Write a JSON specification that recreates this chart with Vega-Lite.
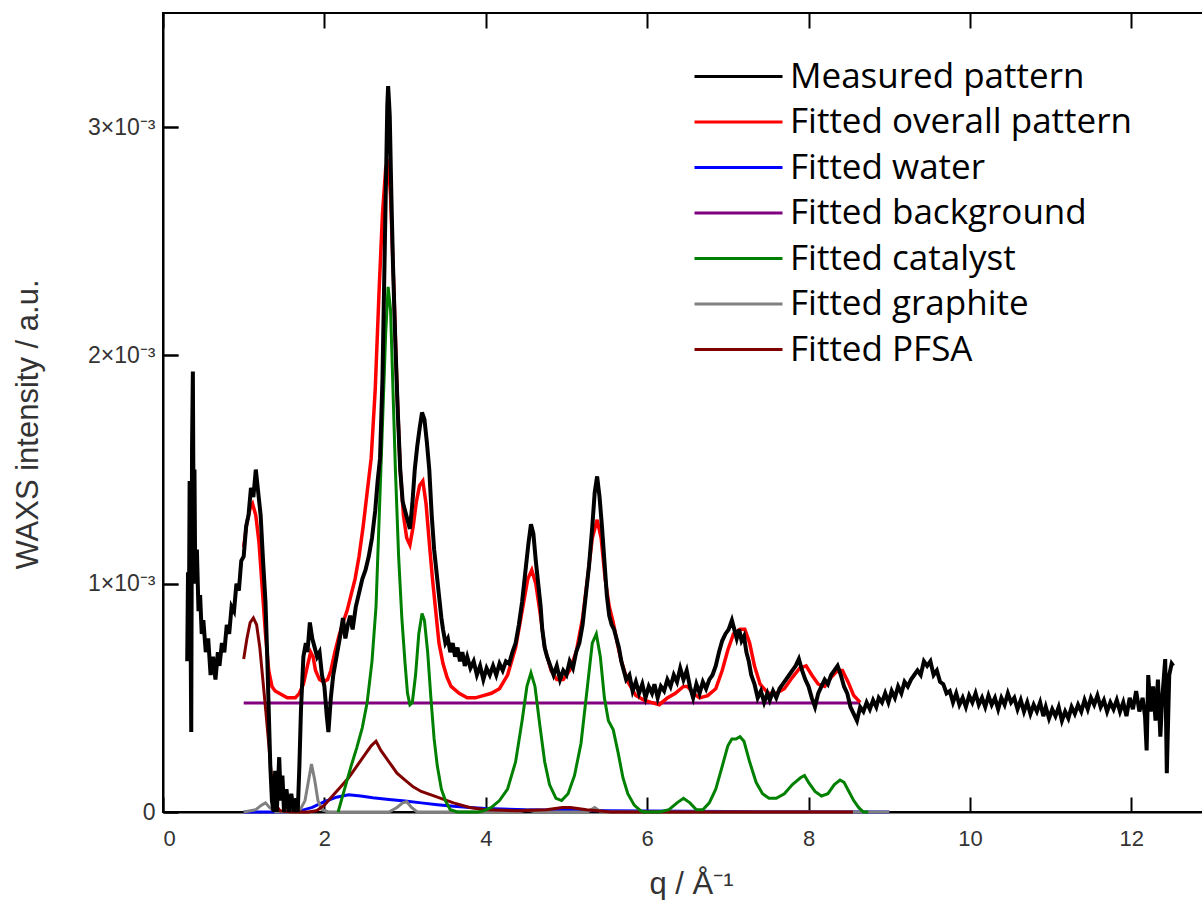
{
"$schema":"https://vega.github.io/schema/vega-lite/v6.json",
"width":1049,"height":799,
"autosize":{"type":"none"},
"padding":{"left":163,"top":13,"right":0,"bottom":88},
"resolve":{"axis":{"x":"independent","y":"independent"}},
"config":{
 "view":{"stroke":"#000","strokeWidth":2},
 "axis":{"domainColor":"#000","domainWidth":2,"tickColor":"#000","tickWidth":2,"gridColor":"#000","gridWidth":2,"gridOpacity":1,"gridDash":[15,3000],"labelFont":"Liberation Sans","labelFontSize":22,"labelColor":"#333","titleFont":"Liberation Sans","titleFontSize":31,"titleColor":"#333","titleFontWeight":"normal"}
},
"layer":[
{
 "data":{"values":[
{"series":"Fitted background","q":1.0,"I":0.477e-3},{"series":"Fitted background","q":8.64,"I":0.477e-3},
{"series":"Fitted water","q":1.0,"I":0},{"series":"Fitted water","q":1.5,"I":0},{"series":"Fitted water","q":1.7,"I":0.005e-3},{"series":"Fitted water","q":1.85,"I":0.02e-3},{"series":"Fitted water","q":2.0,"I":0.045e-3},{"series":"Fitted water","q":2.15,"I":0.065e-3},{"series":"Fitted water","q":2.3,"I":0.075e-3},{"series":"Fitted water","q":2.45,"I":0.07e-3},{"series":"Fitted water","q":2.6,"I":0.062e-3},{"series":"Fitted water","q":2.8,"I":0.055e-3},{"series":"Fitted water","q":3.0,"I":0.048e-3},{"series":"Fitted water","q":3.2,"I":0.04e-3},{"series":"Fitted water","q":3.4,"I":0.032e-3},{"series":"Fitted water","q":3.6,"I":0.025e-3},{"series":"Fitted water","q":3.8,"I":0.02e-3},{"series":"Fitted water","q":4.0,"I":0.015e-3},{"series":"Fitted water","q":4.5,"I":0.01e-3},{"series":"Fitted water","q":5.0,"I":0.008e-3},{"series":"Fitted water","q":5.5,"I":0.006e-3},{"series":"Fitted water","q":6.0,"I":0.004e-3},{"series":"Fitted water","q":7.0,"I":0.002e-3},{"series":"Fitted water","q":8.0,"I":0.001e-3},{"series":"Fitted water","q":9.0,"I":0},
{"series":"Fitted graphite","q":1.0,"I":0},{"series":"Fitted graphite","q":1.15,"I":0.01e-3},{"series":"Fitted graphite","q":1.22,"I":0.03e-3},{"series":"Fitted graphite","q":1.27,"I":0.04e-3},{"series":"Fitted graphite","q":1.32,"I":0.02e-3},{"series":"Fitted graphite","q":1.4,"I":0},{"series":"Fitted graphite","q":1.6,"I":0},{"series":"Fitted graphite","q":1.7,"I":0.01e-3},{"series":"Fitted graphite","q":1.76,"I":0.05e-3},{"series":"Fitted graphite","q":1.8,"I":0.13e-3},{"series":"Fitted graphite","q":1.84,"I":0.21e-3},{"series":"Fitted graphite","q":1.88,"I":0.14e-3},{"series":"Fitted graphite","q":1.92,"I":0.05e-3},{"series":"Fitted graphite","q":1.97,"I":0.01e-3},{"series":"Fitted graphite","q":2.05,"I":0},{"series":"Fitted graphite","q":2.8,"I":0},{"series":"Fitted graphite","q":2.9,"I":0.02e-3},{"series":"Fitted graphite","q":2.97,"I":0.04e-3},{"series":"Fitted graphite","q":3.02,"I":0.045e-3},{"series":"Fitted graphite","q":3.08,"I":0.02e-3},{"series":"Fitted graphite","q":3.15,"I":0},{"series":"Fitted graphite","q":4.4,"I":0},{"series":"Fitted graphite","q":4.52,"I":0.01e-3},{"series":"Fitted graphite","q":4.62,"I":0},{"series":"Fitted graphite","q":5.26,"I":0},{"series":"Fitted graphite","q":5.35,"I":0.02e-3},{"series":"Fitted graphite","q":5.43,"I":0},{"series":"Fitted graphite","q":9.0,"I":0},
{"series":"Fitted PFSA","q":1.0,"I":0.67e-3},{"series":"Fitted PFSA","q":1.04,"I":0.76e-3},{"series":"Fitted PFSA","q":1.08,"I":0.83e-3},{"series":"Fitted PFSA","q":1.12,"I":0.85e-3},{"series":"Fitted PFSA","q":1.16,"I":0.82e-3},{"series":"Fitted PFSA","q":1.2,"I":0.72e-3},{"series":"Fitted PFSA","q":1.24,"I":0.57e-3},{"series":"Fitted PFSA","q":1.28,"I":0.42e-3},{"series":"Fitted PFSA","q":1.31,"I":0.3e-3},{"series":"Fitted PFSA","q":1.34,"I":0.17e-3},{"series":"Fitted PFSA","q":1.37,"I":0.08e-3},{"series":"Fitted PFSA","q":1.4,"I":0.03e-3},{"series":"Fitted PFSA","q":1.45,"I":0.005e-3},{"series":"Fitted PFSA","q":1.6,"I":0},{"series":"Fitted PFSA","q":1.8,"I":0},{"series":"Fitted PFSA","q":1.9,"I":0.005e-3},{"series":"Fitted PFSA","q":2.0,"I":0.03e-3},{"series":"Fitted PFSA","q":2.1,"I":0.07e-3},{"series":"Fitted PFSA","q":2.2,"I":0.11e-3},{"series":"Fitted PFSA","q":2.3,"I":0.15e-3},{"series":"Fitted PFSA","q":2.4,"I":0.2e-3},{"series":"Fitted PFSA","q":2.5,"I":0.25e-3},{"series":"Fitted PFSA","q":2.58,"I":0.29e-3},{"series":"Fitted PFSA","q":2.64,"I":0.31e-3},{"series":"Fitted PFSA","q":2.7,"I":0.27e-3},{"series":"Fitted PFSA","q":2.8,"I":0.22e-3},{"series":"Fitted PFSA","q":2.9,"I":0.17e-3},{"series":"Fitted PFSA","q":3.0,"I":0.14e-3},{"series":"Fitted PFSA","q":3.1,"I":0.11e-3},{"series":"Fitted PFSA","q":3.2,"I":0.09e-3},{"series":"Fitted PFSA","q":3.4,"I":0.065e-3},{"series":"Fitted PFSA","q":3.6,"I":0.04e-3},{"series":"Fitted PFSA","q":3.8,"I":0.02e-3},{"series":"Fitted PFSA","q":4.0,"I":0.01e-3},{"series":"Fitted PFSA","q":4.4,"I":0.005e-3},{"series":"Fitted PFSA","q":4.75,"I":0.01e-3},{"series":"Fitted PFSA","q":4.95,"I":0.02e-3},{"series":"Fitted PFSA","q":5.05,"I":0.02e-3},{"series":"Fitted PFSA","q":5.25,"I":0.01e-3},{"series":"Fitted PFSA","q":5.55,"I":0},{"series":"Fitted PFSA","q":8.55,"I":0},
{"series":"Fitted catalyst","q":2.17,"I":0},{"series":"Fitted catalyst","q":2.25,"I":0.1e-3},{"series":"Fitted catalyst","q":2.33,"I":0.2e-3},{"series":"Fitted catalyst","q":2.4,"I":0.28e-3},{"series":"Fitted catalyst","q":2.47,"I":0.37e-3},{"series":"Fitted catalyst","q":2.53,"I":0.48e-3},{"series":"Fitted catalyst","q":2.59,"I":0.66e-3},{"series":"Fitted catalyst","q":2.64,"I":0.9e-3},{"series":"Fitted catalyst","q":2.68,"I":1.3e-3},{"series":"Fitted catalyst","q":2.72,"I":1.7e-3},{"series":"Fitted catalyst","q":2.76,"I":2.1e-3},{"series":"Fitted catalyst","q":2.79,"I":2.3e-3},{"series":"Fitted catalyst","q":2.82,"I":2.2e-3},{"series":"Fitted catalyst","q":2.85,"I":1.85e-3},{"series":"Fitted catalyst","q":2.88,"I":1.5e-3},{"series":"Fitted catalyst","q":2.92,"I":1.12e-3},{"series":"Fitted catalyst","q":2.96,"I":0.85e-3},{"series":"Fitted catalyst","q":3.0,"I":0.65e-3},{"series":"Fitted catalyst","q":3.03,"I":0.52e-3},{"series":"Fitted catalyst","q":3.06,"I":0.47e-3},{"series":"Fitted catalyst","q":3.09,"I":0.48e-3},{"series":"Fitted catalyst","q":3.13,"I":0.6e-3},{"series":"Fitted catalyst","q":3.17,"I":0.78e-3},{"series":"Fitted catalyst","q":3.21,"I":0.87e-3},{"series":"Fitted catalyst","q":3.24,"I":0.84e-3},{"series":"Fitted catalyst","q":3.28,"I":0.7e-3},{"series":"Fitted catalyst","q":3.32,"I":0.5e-3},{"series":"Fitted catalyst","q":3.36,"I":0.32e-3},{"series":"Fitted catalyst","q":3.4,"I":0.2e-3},{"series":"Fitted catalyst","q":3.45,"I":0.1e-3},{"series":"Fitted catalyst","q":3.5,"I":0.05e-3},{"series":"Fitted catalyst","q":3.56,"I":0.01e-3},{"series":"Fitted catalyst","q":3.65,"I":0},{"series":"Fitted catalyst","q":3.9,"I":0},{"series":"Fitted catalyst","q":3.97,"I":0.005e-3},{"series":"Fitted catalyst","q":4.07,"I":0.02e-3},{"series":"Fitted catalyst","q":4.17,"I":0.05e-3},{"series":"Fitted catalyst","q":4.27,"I":0.1e-3},{"series":"Fitted catalyst","q":4.37,"I":0.22e-3},{"series":"Fitted catalyst","q":4.45,"I":0.4e-3},{"series":"Fitted catalyst","q":4.51,"I":0.55e-3},{"series":"Fitted catalyst","q":4.56,"I":0.61e-3},{"series":"Fitted catalyst","q":4.61,"I":0.55e-3},{"series":"Fitted catalyst","q":4.67,"I":0.38e-3},{"series":"Fitted catalyst","q":4.73,"I":0.22e-3},{"series":"Fitted catalyst","q":4.79,"I":0.12e-3},{"series":"Fitted catalyst","q":4.87,"I":0.06e-3},{"series":"Fitted catalyst","q":4.94,"I":0.05e-3},{"series":"Fitted catalyst","q":5.02,"I":0.08e-3},{"series":"Fitted catalyst","q":5.1,"I":0.16e-3},{"series":"Fitted catalyst","q":5.18,"I":0.3e-3},{"series":"Fitted catalyst","q":5.26,"I":0.55e-3},{"series":"Fitted catalyst","q":5.32,"I":0.74e-3},{"series":"Fitted catalyst","q":5.37,"I":0.78e-3},{"series":"Fitted catalyst","q":5.42,"I":0.68e-3},{"series":"Fitted catalyst","q":5.47,"I":0.5e-3},{"series":"Fitted catalyst","q":5.52,"I":0.4e-3},{"series":"Fitted catalyst","q":5.58,"I":0.36e-3},{"series":"Fitted catalyst","q":5.64,"I":0.26e-3},{"series":"Fitted catalyst","q":5.7,"I":0.15e-3},{"series":"Fitted catalyst","q":5.76,"I":0.08e-3},{"series":"Fitted catalyst","q":5.84,"I":0.03e-3},{"series":"Fitted catalyst","q":5.92,"I":0.005e-3},{"series":"Fitted catalyst","q":5.96,"I":0},{"series":"Fitted catalyst","q":6.15,"I":0},{"series":"Fitted catalyst","q":6.27,"I":0.01e-3},{"series":"Fitted catalyst","q":6.37,"I":0.04e-3},{"series":"Fitted catalyst","q":6.45,"I":0.06e-3},{"series":"Fitted catalyst","q":6.53,"I":0.04e-3},{"series":"Fitted catalyst","q":6.61,"I":0.01e-3},{"series":"Fitted catalyst","q":6.69,"I":0.01e-3},{"series":"Fitted catalyst","q":6.77,"I":0.04e-3},{"series":"Fitted catalyst","q":6.85,"I":0.1e-3},{"series":"Fitted catalyst","q":6.93,"I":0.2e-3},{"series":"Fitted catalyst","q":7.0,"I":0.29e-3},{"series":"Fitted catalyst","q":7.05,"I":0.32e-3},{"series":"Fitted catalyst","q":7.1,"I":0.32e-3},{"series":"Fitted catalyst","q":7.15,"I":0.33e-3},{"series":"Fitted catalyst","q":7.2,"I":0.31e-3},{"series":"Fitted catalyst","q":7.27,"I":0.22e-3},{"series":"Fitted catalyst","q":7.35,"I":0.13e-3},{"series":"Fitted catalyst","q":7.43,"I":0.08e-3},{"series":"Fitted catalyst","q":7.51,"I":0.06e-3},{"series":"Fitted catalyst","q":7.6,"I":0.06e-3},{"series":"Fitted catalyst","q":7.7,"I":0.08e-3},{"series":"Fitted catalyst","q":7.8,"I":0.12e-3},{"series":"Fitted catalyst","q":7.9,"I":0.15e-3},{"series":"Fitted catalyst","q":7.95,"I":0.16e-3},{"series":"Fitted catalyst","q":8.0,"I":0.13e-3},{"series":"Fitted catalyst","q":8.08,"I":0.09e-3},{"series":"Fitted catalyst","q":8.16,"I":0.07e-3},{"series":"Fitted catalyst","q":8.24,"I":0.08e-3},{"series":"Fitted catalyst","q":8.32,"I":0.12e-3},{"series":"Fitted catalyst","q":8.39,"I":0.14e-3},{"series":"Fitted catalyst","q":8.44,"I":0.13e-3},{"series":"Fitted catalyst","q":8.5,"I":0.09e-3},{"series":"Fitted catalyst","q":8.56,"I":0.05e-3},{"series":"Fitted catalyst","q":8.62,"I":0.02e-3},{"series":"Fitted catalyst","q":8.68,"I":0},{"series":"Fitted catalyst","q":8.74,"I":0}
 ]},
 "mark":{"type":"line","strokeWidth":3},
 "encoding":{
  "x":{"field":"q","type":"quantitative","scale":{"domain":[0,13],"nice":false,"zero":false},"axis":{"orient":"bottom","values":[0,2,4,6,8,10,12],"format":"d","ticks":true,"tickSize":-15,"grid":true,"title":"q / Å⁻¹","labelPadding":31,"titleX":528,"titleY":81,"titleBaseline":"alphabetic"}},
  "y":{"field":"I","type":"quantitative","scale":{"domain":[0,0.0035],"nice":false},"axis":{"orient":"left","values":[0,0.001,0.002,0.003],"ticks":true,"tickSize":-15,"grid":true,"labelExpr":"datum.value == 0 ? '0' : round(datum.value*1000) + '×10⁻³'","title":"WAXS intensity / a.u.","labelPadding":23,"labelFontSize":23,"titleX":-135,"titleY":411,"titleBaseline":"middle"}},
  "color":{"field":"series","type":"nominal","scale":{"domain":["Measured pattern","Fitted overall pattern","Fitted water","Fitted background","Fitted catalyst","Fitted graphite","Fitted PFSA"],"range":["#000000","#ff0000","#0000ff","#800080","#008000","#808080","#800000"]},
   "legend":{"orient":"none","legendX":525,"legendY":46,"title":null,"labelFont":"Open Sans","labelFontSize":35,"labelColor":"#000","labelLimit":0,"symbolType":"M-1,0H7","symbolSize":484,"symbolStrokeWidth":3,"labelOffset":67,"rowPadding":9.5}}
 }
},
{
 "data":{"values":[
{"series":"Fitted overall pattern","q":1.0,"I":1.16e-3},{"series":"Fitted overall pattern","q":1.04,"I":1.27e-3},{"series":"Fitted overall pattern","q":1.08,"I":1.33e-3},{"series":"Fitted overall pattern","q":1.11,"I":1.35e-3},{"series":"Fitted overall pattern","q":1.15,"I":1.3e-3},{"series":"Fitted overall pattern","q":1.19,"I":1.18e-3},{"series":"Fitted overall pattern","q":1.23,"I":0.98e-3},{"series":"Fitted overall pattern","q":1.27,"I":0.78e-3},{"series":"Fitted overall pattern","q":1.31,"I":0.62e-3},{"series":"Fitted overall pattern","q":1.35,"I":0.55e-3},{"series":"Fitted overall pattern","q":1.39,"I":0.53e-3},{"series":"Fitted overall pattern","q":1.44,"I":0.52e-3},{"series":"Fitted overall pattern","q":1.49,"I":0.51e-3},{"series":"Fitted overall pattern","q":1.54,"I":0.5e-3},{"series":"Fitted overall pattern","q":1.59,"I":0.5e-3},{"series":"Fitted overall pattern","q":1.64,"I":0.5e-3},{"series":"Fitted overall pattern","q":1.69,"I":0.52e-3},{"series":"Fitted overall pattern","q":1.74,"I":0.56e-3},{"series":"Fitted overall pattern","q":1.79,"I":0.64e-3},{"series":"Fitted overall pattern","q":1.83,"I":0.7e-3},{"series":"Fitted overall pattern","q":1.86,"I":0.68e-3},{"series":"Fitted overall pattern","q":1.89,"I":0.62e-3},{"series":"Fitted overall pattern","q":1.94,"I":0.58e-3},{"series":"Fitted overall pattern","q":1.99,"I":0.57e-3},{"series":"Fitted overall pattern","q":2.04,"I":0.58e-3},{"series":"Fitted overall pattern","q":2.08,"I":0.62e-3},{"series":"Fitted overall pattern","q":2.13,"I":0.7e-3},{"series":"Fitted overall pattern","q":2.18,"I":0.77e-3},{"series":"Fitted overall pattern","q":2.23,"I":0.83e-3},{"series":"Fitted overall pattern","q":2.28,"I":0.88e-3},{"series":"Fitted overall pattern","q":2.33,"I":0.95e-3},{"series":"Fitted overall pattern","q":2.38,"I":1.02e-3},{"series":"Fitted overall pattern","q":2.43,"I":1.12e-3},{"series":"Fitted overall pattern","q":2.48,"I":1.25e-3},{"series":"Fitted overall pattern","q":2.53,"I":1.4e-3},{"series":"Fitted overall pattern","q":2.58,"I":1.55e-3},{"series":"Fitted overall pattern","q":2.63,"I":1.85e-3},{"series":"Fitted overall pattern","q":2.68,"I":2.3e-3},{"series":"Fitted overall pattern","q":2.72,"I":2.62e-3},{"series":"Fitted overall pattern","q":2.76,"I":2.82e-3},{"series":"Fitted overall pattern","q":2.79,"I":2.86e-3},{"series":"Fitted overall pattern","q":2.82,"I":2.7e-3},{"series":"Fitted overall pattern","q":2.86,"I":2.3e-3},{"series":"Fitted overall pattern","q":2.9,"I":1.85e-3},{"series":"Fitted overall pattern","q":2.94,"I":1.5e-3},{"series":"Fitted overall pattern","q":2.98,"I":1.3e-3},{"series":"Fitted overall pattern","q":3.02,"I":1.2e-3},{"series":"Fitted overall pattern","q":3.06,"I":1.17e-3},{"series":"Fitted overall pattern","q":3.1,"I":1.25e-3},{"series":"Fitted overall pattern","q":3.14,"I":1.36e-3},{"series":"Fitted overall pattern","q":3.18,"I":1.43e-3},{"series":"Fitted overall pattern","q":3.22,"I":1.45e-3},{"series":"Fitted overall pattern","q":3.26,"I":1.35e-3},{"series":"Fitted overall pattern","q":3.3,"I":1.18e-3},{"series":"Fitted overall pattern","q":3.34,"I":1.02e-3},{"series":"Fitted overall pattern","q":3.38,"I":0.88e-3},{"series":"Fitted overall pattern","q":3.42,"I":0.74e-3},{"series":"Fitted overall pattern","q":3.47,"I":0.65e-3},{"series":"Fitted overall pattern","q":3.52,"I":0.59e-3},{"series":"Fitted overall pattern","q":3.57,"I":0.55e-3},{"series":"Fitted overall pattern","q":3.67,"I":0.52e-3},{"series":"Fitted overall pattern","q":3.77,"I":0.5e-3},{"series":"Fitted overall pattern","q":3.87,"I":0.5e-3},{"series":"Fitted overall pattern","q":3.97,"I":0.51e-3},{"series":"Fitted overall pattern","q":4.07,"I":0.52e-3},{"series":"Fitted overall pattern","q":4.17,"I":0.54e-3},{"series":"Fitted overall pattern","q":4.27,"I":0.6e-3},{"series":"Fitted overall pattern","q":4.37,"I":0.72e-3},{"series":"Fitted overall pattern","q":4.45,"I":0.88e-3},{"series":"Fitted overall pattern","q":4.52,"I":1.02e-3},{"series":"Fitted overall pattern","q":4.57,"I":1.06e-3},{"series":"Fitted overall pattern","q":4.62,"I":1.0e-3},{"series":"Fitted overall pattern","q":4.67,"I":0.88e-3},{"series":"Fitted overall pattern","q":4.73,"I":0.72e-3},{"series":"Fitted overall pattern","q":4.81,"I":0.62e-3},{"series":"Fitted overall pattern","q":4.88,"I":0.58e-3},{"series":"Fitted overall pattern","q":4.96,"I":0.58e-3},{"series":"Fitted overall pattern","q":5.04,"I":0.62e-3},{"series":"Fitted overall pattern","q":5.12,"I":0.7e-3},{"series":"Fitted overall pattern","q":5.2,"I":0.85e-3},{"series":"Fitted overall pattern","q":5.26,"I":1.02e-3},{"series":"Fitted overall pattern","q":5.32,"I":1.2e-3},{"series":"Fitted overall pattern","q":5.38,"I":1.28e-3},{"series":"Fitted overall pattern","q":5.43,"I":1.2e-3},{"series":"Fitted overall pattern","q":5.48,"I":1.02e-3},{"series":"Fitted overall pattern","q":5.53,"I":0.9e-3},{"series":"Fitted overall pattern","q":5.58,"I":0.83e-3},{"series":"Fitted overall pattern","q":5.63,"I":0.74e-3},{"series":"Fitted overall pattern","q":5.68,"I":0.66e-3},{"series":"Fitted overall pattern","q":5.76,"I":0.57e-3},{"series":"Fitted overall pattern","q":5.86,"I":0.51e-3},{"series":"Fitted overall pattern","q":5.96,"I":0.49e-3},{"series":"Fitted overall pattern","q":6.05,"I":0.48e-3},{"series":"Fitted overall pattern","q":6.15,"I":0.47e-3},{"series":"Fitted overall pattern","q":6.25,"I":0.5e-3},{"series":"Fitted overall pattern","q":6.35,"I":0.52e-3},{"series":"Fitted overall pattern","q":6.45,"I":0.55e-3},{"series":"Fitted overall pattern","q":6.5,"I":0.55e-3},{"series":"Fitted overall pattern","q":6.57,"I":0.52e-3},{"series":"Fitted overall pattern","q":6.65,"I":0.5e-3},{"series":"Fitted overall pattern","q":6.75,"I":0.51e-3},{"series":"Fitted overall pattern","q":6.85,"I":0.54e-3},{"series":"Fitted overall pattern","q":6.93,"I":0.62e-3},{"series":"Fitted overall pattern","q":7.0,"I":0.71e-3},{"series":"Fitted overall pattern","q":7.07,"I":0.78e-3},{"series":"Fitted overall pattern","q":7.15,"I":0.8e-3},{"series":"Fitted overall pattern","q":7.21,"I":0.8e-3},{"series":"Fitted overall pattern","q":7.27,"I":0.74e-3},{"series":"Fitted overall pattern","q":7.33,"I":0.64e-3},{"series":"Fitted overall pattern","q":7.4,"I":0.56e-3},{"series":"Fitted overall pattern","q":7.5,"I":0.52e-3},{"series":"Fitted overall pattern","q":7.6,"I":0.52e-3},{"series":"Fitted overall pattern","q":7.7,"I":0.54e-3},{"series":"Fitted overall pattern","q":7.8,"I":0.59e-3},{"series":"Fitted overall pattern","q":7.89,"I":0.63e-3},{"series":"Fitted overall pattern","q":7.97,"I":0.64e-3},{"series":"Fitted overall pattern","q":8.04,"I":0.6e-3},{"series":"Fitted overall pattern","q":8.12,"I":0.56e-3},{"series":"Fitted overall pattern","q":8.2,"I":0.55e-3},{"series":"Fitted overall pattern","q":8.28,"I":0.59e-3},{"series":"Fitted overall pattern","q":8.36,"I":0.62e-3},{"series":"Fitted overall pattern","q":8.42,"I":0.62e-3},{"series":"Fitted overall pattern","q":8.49,"I":0.57e-3},{"series":"Fitted overall pattern","q":8.56,"I":0.51e-3},{"series":"Fitted overall pattern","q":8.64,"I":0.48e-3}
 ]},
 "mark":{"type":"line","strokeWidth":3.5},
 "encoding":{
  "x":{"field":"q","type":"quantitative","axis":null},
  "y":{"field":"I","type":"quantitative","axis":null},
  "color":{"field":"series","type":"nominal"}
 }
},
{
 "data":{"values":[
{"series":"Measured pattern","q":0.3,"I":0.66e-3},{"series":"Measured pattern","q":0.31,"I":1.05e-3},{"series":"Measured pattern","q":0.32,"I":0.75e-3},{"series":"Measured pattern","q":0.33,"I":1.45e-3},{"series":"Measured pattern","q":0.34,"I":0.9e-3},{"series":"Measured pattern","q":0.35,"I":0.35e-3},{"series":"Measured pattern","q":0.36,"I":1.6e-3},{"series":"Measured pattern","q":0.37,"I":1.93e-3},{"series":"Measured pattern","q":0.38,"I":1.2e-3},{"series":"Measured pattern","q":0.39,"I":1.5e-3},{"series":"Measured pattern","q":0.4,"I":1.0e-3},{"series":"Measured pattern","q":0.42,"I":1.15e-3},{"series":"Measured pattern","q":0.44,"I":0.88e-3},{"series":"Measured pattern","q":0.46,"I":0.95e-3},{"series":"Measured pattern","q":0.48,"I":0.78e-3},{"series":"Measured pattern","q":0.5,"I":0.84e-3},{"series":"Measured pattern","q":0.53,"I":0.7e-3},{"series":"Measured pattern","q":0.56,"I":0.76e-3},{"series":"Measured pattern","q":0.59,"I":0.6e-3},{"series":"Measured pattern","q":0.62,"I":0.68e-3},{"series":"Measured pattern","q":0.65,"I":0.58e-3},{"series":"Measured pattern","q":0.68,"I":0.7e-3},{"series":"Measured pattern","q":0.7,"I":0.64e-3},{"series":"Measured pattern","q":0.73,"I":0.74e-3},{"series":"Measured pattern","q":0.76,"I":0.7e-3},{"series":"Measured pattern","q":0.79,"I":0.82e-3},{"series":"Measured pattern","q":0.82,"I":0.78e-3},{"series":"Measured pattern","q":0.85,"I":0.9e-3},{"series":"Measured pattern","q":0.88,"I":0.88e-3},{"series":"Measured pattern","q":0.91,"I":1.0e-3},{"series":"Measured pattern","q":0.94,"I":0.97e-3},{"series":"Measured pattern","q":0.97,"I":1.1e-3},{"series":"Measured pattern","q":1.0,"I":1.12e-3},{"series":"Measured pattern","q":1.03,"I":1.25e-3},{"series":"Measured pattern","q":1.06,"I":1.3e-3},{"series":"Measured pattern","q":1.09,"I":1.42e-3},{"series":"Measured pattern","q":1.12,"I":1.38e-3},{"series":"Measured pattern","q":1.15,"I":1.5e-3},{"series":"Measured pattern","q":1.18,"I":1.4e-3},{"series":"Measured pattern","q":1.21,"I":1.3e-3},{"series":"Measured pattern","q":1.24,"I":1.1e-3},{"series":"Measured pattern","q":1.27,"I":0.92e-3},{"series":"Measured pattern","q":1.29,"I":0.7e-3},{"series":"Measured pattern","q":1.31,"I":0.45e-3},{"series":"Measured pattern","q":1.33,"I":0.2e-3},{"series":"Measured pattern","q":1.35,"I":0.05e-3},{"series":"Measured pattern","q":1.37,"I":0},{"series":"Measured pattern","q":1.39,"I":0.18e-3},{"series":"Measured pattern","q":1.41,"I":0},{"series":"Measured pattern","q":1.44,"I":0.24e-3},{"series":"Measured pattern","q":1.46,"I":0.05e-3},{"series":"Measured pattern","q":1.48,"I":0.16e-3},{"series":"Measured pattern","q":1.5,"I":0},{"series":"Measured pattern","q":1.53,"I":0.1e-3},{"series":"Measured pattern","q":1.56,"I":0},{"series":"Measured pattern","q":1.59,"I":0.08e-3},{"series":"Measured pattern","q":1.62,"I":0},{"series":"Measured pattern","q":1.65,"I":0.06e-3},{"series":"Measured pattern","q":1.67,"I":0},{"series":"Measured pattern","q":1.69,"I":0.2e-3},{"series":"Measured pattern","q":1.71,"I":0.45e-3},{"series":"Measured pattern","q":1.74,"I":0.68e-3},{"series":"Measured pattern","q":1.77,"I":0.74e-3},{"series":"Measured pattern","q":1.79,"I":0.7e-3},{"series":"Measured pattern","q":1.82,"I":0.83e-3},{"series":"Measured pattern","q":1.85,"I":0.76e-3},{"series":"Measured pattern","q":1.88,"I":0.72e-3},{"series":"Measured pattern","q":1.91,"I":0.68e-3},{"series":"Measured pattern","q":1.94,"I":0.7e-3},{"series":"Measured pattern","q":1.97,"I":0.6e-3},{"series":"Measured pattern","q":2.0,"I":0.55e-3},{"series":"Measured pattern","q":2.03,"I":0.42e-3},{"series":"Measured pattern","q":2.05,"I":0.35e-3},{"series":"Measured pattern","q":2.08,"I":0.5e-3},{"series":"Measured pattern","q":2.11,"I":0.6e-3},{"series":"Measured pattern","q":2.14,"I":0.66e-3},{"series":"Measured pattern","q":2.17,"I":0.72e-3},{"series":"Measured pattern","q":2.2,"I":0.78e-3},{"series":"Measured pattern","q":2.23,"I":0.85e-3},{"series":"Measured pattern","q":2.26,"I":0.76e-3},{"series":"Measured pattern","q":2.29,"I":0.82e-3},{"series":"Measured pattern","q":2.32,"I":0.86e-3},{"series":"Measured pattern","q":2.35,"I":0.8e-3},{"series":"Measured pattern","q":2.39,"I":0.9e-3},{"series":"Measured pattern","q":2.43,"I":0.96e-3},{"series":"Measured pattern","q":2.47,"I":1.02e-3},{"series":"Measured pattern","q":2.51,"I":1.06e-3},{"series":"Measured pattern","q":2.55,"I":1.12e-3},{"series":"Measured pattern","q":2.59,"I":1.2e-3},{"series":"Measured pattern","q":2.63,"I":1.32e-3},{"series":"Measured pattern","q":2.66,"I":1.45e-3},{"series":"Measured pattern","q":2.69,"I":1.55e-3},{"series":"Measured pattern","q":2.72,"I":1.9e-3},{"series":"Measured pattern","q":2.75,"I":2.5e-3},{"series":"Measured pattern","q":2.77,"I":2.9e-3},{"series":"Measured pattern","q":2.78,"I":3.1e-3},{"series":"Measured pattern","q":2.79,"I":3.18e-3},{"series":"Measured pattern","q":2.8,"I":3.12e-3},{"series":"Measured pattern","q":2.81,"I":3.05e-3},{"series":"Measured pattern","q":2.83,"I":2.7e-3},{"series":"Measured pattern","q":2.85,"I":2.4e-3},{"series":"Measured pattern","q":2.88,"I":2.05e-3},{"series":"Measured pattern","q":2.91,"I":1.75e-3},{"series":"Measured pattern","q":2.94,"I":1.5e-3},{"series":"Measured pattern","q":2.97,"I":1.36e-3},{"series":"Measured pattern","q":3.0,"I":1.32e-3},{"series":"Measured pattern","q":3.03,"I":1.28e-3},{"series":"Measured pattern","q":3.06,"I":1.24e-3},{"series":"Measured pattern","q":3.09,"I":1.35e-3},{"series":"Measured pattern","q":3.12,"I":1.5e-3},{"series":"Measured pattern","q":3.15,"I":1.6e-3},{"series":"Measured pattern","q":3.18,"I":1.68e-3},{"series":"Measured pattern","q":3.21,"I":1.75e-3},{"series":"Measured pattern","q":3.24,"I":1.72e-3},{"series":"Measured pattern","q":3.27,"I":1.62e-3},{"series":"Measured pattern","q":3.3,"I":1.5e-3},{"series":"Measured pattern","q":3.33,"I":1.3e-3},{"series":"Measured pattern","q":3.36,"I":1.15e-3},{"series":"Measured pattern","q":3.39,"I":1.05e-3},{"series":"Measured pattern","q":3.42,"I":0.95e-3},{"series":"Measured pattern","q":3.45,"I":0.85e-3},{"series":"Measured pattern","q":3.47,"I":0.8e-3},{"series":"Measured pattern","q":3.5,"I":0.74e-3},{"series":"Measured pattern","q":3.53,"I":0.76e-3},{"series":"Measured pattern","q":3.56,"I":0.7e-3},{"series":"Measured pattern","q":3.59,"I":0.74e-3},{"series":"Measured pattern","q":3.62,"I":0.68e-3},{"series":"Measured pattern","q":3.65,"I":0.72e-3},{"series":"Measured pattern","q":3.68,"I":0.66e-3},{"series":"Measured pattern","q":3.71,"I":0.7e-3},{"series":"Measured pattern","q":3.74,"I":0.64e-3},{"series":"Measured pattern","q":3.77,"I":0.68e-3},{"series":"Measured pattern","q":3.81,"I":0.63e-3},{"series":"Measured pattern","q":3.85,"I":0.66e-3},{"series":"Measured pattern","q":3.89,"I":0.6e-3},{"series":"Measured pattern","q":3.93,"I":0.64e-3},{"series":"Measured pattern","q":3.97,"I":0.58e-3},{"series":"Measured pattern","q":4.01,"I":0.63e-3},{"series":"Measured pattern","q":4.05,"I":0.6e-3},{"series":"Measured pattern","q":4.09,"I":0.64e-3},{"series":"Measured pattern","q":4.13,"I":0.6e-3},{"series":"Measured pattern","q":4.17,"I":0.65e-3},{"series":"Measured pattern","q":4.21,"I":0.62e-3},{"series":"Measured pattern","q":4.25,"I":0.66e-3},{"series":"Measured pattern","q":4.29,"I":0.65e-3},{"series":"Measured pattern","q":4.33,"I":0.7e-3},{"series":"Measured pattern","q":4.37,"I":0.74e-3},{"series":"Measured pattern","q":4.41,"I":0.82e-3},{"series":"Measured pattern","q":4.45,"I":0.92e-3},{"series":"Measured pattern","q":4.49,"I":1.05e-3},{"series":"Measured pattern","q":4.53,"I":1.18e-3},{"series":"Measured pattern","q":4.56,"I":1.26e-3},{"series":"Measured pattern","q":4.59,"I":1.22e-3},{"series":"Measured pattern","q":4.62,"I":1.1e-3},{"series":"Measured pattern","q":4.65,"I":1.0e-3},{"series":"Measured pattern","q":4.68,"I":0.9e-3},{"series":"Measured pattern","q":4.7,"I":0.8e-3},{"series":"Measured pattern","q":4.73,"I":0.72e-3},{"series":"Measured pattern","q":4.76,"I":0.68e-3},{"series":"Measured pattern","q":4.8,"I":0.64e-3},{"series":"Measured pattern","q":4.84,"I":0.6e-3},{"series":"Measured pattern","q":4.88,"I":0.64e-3},{"series":"Measured pattern","q":4.92,"I":0.58e-3},{"series":"Measured pattern","q":4.96,"I":0.62e-3},{"series":"Measured pattern","q":5.0,"I":0.6e-3},{"series":"Measured pattern","q":5.04,"I":0.66e-3},{"series":"Measured pattern","q":5.08,"I":0.63e-3},{"series":"Measured pattern","q":5.12,"I":0.7e-3},{"series":"Measured pattern","q":5.16,"I":0.74e-3},{"series":"Measured pattern","q":5.2,"I":0.82e-3},{"series":"Measured pattern","q":5.24,"I":0.95e-3},{"series":"Measured pattern","q":5.28,"I":1.08e-3},{"series":"Measured pattern","q":5.32,"I":1.25e-3},{"series":"Measured pattern","q":5.35,"I":1.4e-3},{"series":"Measured pattern","q":5.38,"I":1.47e-3},{"series":"Measured pattern","q":5.41,"I":1.38e-3},{"series":"Measured pattern","q":5.44,"I":1.25e-3},{"series":"Measured pattern","q":5.47,"I":1.1e-3},{"series":"Measured pattern","q":5.5,"I":0.95e-3},{"series":"Measured pattern","q":5.53,"I":0.86e-3},{"series":"Measured pattern","q":5.56,"I":0.82e-3},{"series":"Measured pattern","q":5.59,"I":0.8e-3},{"series":"Measured pattern","q":5.62,"I":0.76e-3},{"series":"Measured pattern","q":5.65,"I":0.72e-3},{"series":"Measured pattern","q":5.68,"I":0.66e-3},{"series":"Measured pattern","q":5.71,"I":0.62e-3},{"series":"Measured pattern","q":5.74,"I":0.58e-3},{"series":"Measured pattern","q":5.78,"I":0.6e-3},{"series":"Measured pattern","q":5.82,"I":0.53e-3},{"series":"Measured pattern","q":5.86,"I":0.57e-3},{"series":"Measured pattern","q":5.9,"I":0.52e-3},{"series":"Measured pattern","q":5.94,"I":0.56e-3},{"series":"Measured pattern","q":5.98,"I":0.5e-3},{"series":"Measured pattern","q":6.02,"I":0.55e-3},{"series":"Measured pattern","q":6.06,"I":0.52e-3},{"series":"Measured pattern","q":6.09,"I":0.56e-3},{"series":"Measured pattern","q":6.13,"I":0.5e-3},{"series":"Measured pattern","q":6.17,"I":0.55e-3},{"series":"Measured pattern","q":6.21,"I":0.53e-3},{"series":"Measured pattern","q":6.25,"I":0.58e-3},{"series":"Measured pattern","q":6.29,"I":0.55e-3},{"series":"Measured pattern","q":6.33,"I":0.6e-3},{"series":"Measured pattern","q":6.37,"I":0.57e-3},{"series":"Measured pattern","q":6.41,"I":0.63e-3},{"series":"Measured pattern","q":6.45,"I":0.58e-3},{"series":"Measured pattern","q":6.49,"I":0.62e-3},{"series":"Measured pattern","q":6.53,"I":0.55e-3},{"series":"Measured pattern","q":6.57,"I":0.5e-3},{"series":"Measured pattern","q":6.61,"I":0.56e-3},{"series":"Measured pattern","q":6.65,"I":0.52e-3},{"series":"Measured pattern","q":6.69,"I":0.57e-3},{"series":"Measured pattern","q":6.73,"I":0.54e-3},{"series":"Measured pattern","q":6.77,"I":0.58e-3},{"series":"Measured pattern","q":6.81,"I":0.6e-3},{"series":"Measured pattern","q":6.85,"I":0.64e-3},{"series":"Measured pattern","q":6.89,"I":0.7e-3},{"series":"Measured pattern","q":6.93,"I":0.75e-3},{"series":"Measured pattern","q":6.97,"I":0.78e-3},{"series":"Measured pattern","q":7.01,"I":0.8e-3},{"series":"Measured pattern","q":7.05,"I":0.84e-3},{"series":"Measured pattern","q":7.08,"I":0.8e-3},{"series":"Measured pattern","q":7.11,"I":0.76e-3},{"series":"Measured pattern","q":7.14,"I":0.8e-3},{"series":"Measured pattern","q":7.17,"I":0.75e-3},{"series":"Measured pattern","q":7.2,"I":0.77e-3},{"series":"Measured pattern","q":7.23,"I":0.7e-3},{"series":"Measured pattern","q":7.26,"I":0.66e-3},{"series":"Measured pattern","q":7.29,"I":0.6e-3},{"series":"Measured pattern","q":7.33,"I":0.56e-3},{"series":"Measured pattern","q":7.37,"I":0.5e-3},{"series":"Measured pattern","q":7.41,"I":0.53e-3},{"series":"Measured pattern","q":7.45,"I":0.48e-3},{"series":"Measured pattern","q":7.49,"I":0.52e-3},{"series":"Measured pattern","q":7.52,"I":0.49e-3},{"series":"Measured pattern","q":7.56,"I":0.53e-3},{"series":"Measured pattern","q":7.6,"I":0.5e-3},{"series":"Measured pattern","q":7.64,"I":0.54e-3},{"series":"Measured pattern","q":7.68,"I":0.56e-3},{"series":"Measured pattern","q":7.72,"I":0.58e-3},{"series":"Measured pattern","q":7.76,"I":0.6e-3},{"series":"Measured pattern","q":7.8,"I":0.62e-3},{"series":"Measured pattern","q":7.84,"I":0.64e-3},{"series":"Measured pattern","q":7.88,"I":0.67e-3},{"series":"Measured pattern","q":7.92,"I":0.62e-3},{"series":"Measured pattern","q":7.96,"I":0.58e-3},{"series":"Measured pattern","q":8.0,"I":0.55e-3},{"series":"Measured pattern","q":8.04,"I":0.5e-3},{"series":"Measured pattern","q":8.08,"I":0.46e-3},{"series":"Measured pattern","q":8.12,"I":0.52e-3},{"series":"Measured pattern","q":8.16,"I":0.55e-3},{"series":"Measured pattern","q":8.2,"I":0.58e-3},{"series":"Measured pattern","q":8.24,"I":0.56e-3},{"series":"Measured pattern","q":8.28,"I":0.6e-3},{"series":"Measured pattern","q":8.32,"I":0.62e-3},{"series":"Measured pattern","q":8.36,"I":0.64e-3},{"series":"Measured pattern","q":8.4,"I":0.6e-3},{"series":"Measured pattern","q":8.44,"I":0.55e-3},{"series":"Measured pattern","q":8.48,"I":0.52e-3},{"series":"Measured pattern","q":8.52,"I":0.46e-3},{"series":"Measured pattern","q":8.56,"I":0.43e-3},{"series":"Measured pattern","q":8.6,"I":0.4e-3},{"series":"Measured pattern","q":8.64,"I":0.46e-3},{"series":"Measured pattern","q":8.68,"I":0.44e-3},{"series":"Measured pattern","q":8.72,"I":0.48e-3},{"series":"Measured pattern","q":8.76,"I":0.45e-3},{"series":"Measured pattern","q":8.8,"I":0.49e-3},{"series":"Measured pattern","q":8.84,"I":0.46e-3},{"series":"Measured pattern","q":8.87,"I":0.5e-3},{"series":"Measured pattern","q":8.91,"I":0.48e-3},{"series":"Measured pattern","q":8.95,"I":0.52e-3},{"series":"Measured pattern","q":8.99,"I":0.48e-3},{"series":"Measured pattern","q":9.03,"I":0.53e-3},{"series":"Measured pattern","q":9.07,"I":0.5e-3},{"series":"Measured pattern","q":9.11,"I":0.55e-3},{"series":"Measured pattern","q":9.15,"I":0.52e-3},{"series":"Measured pattern","q":9.19,"I":0.57e-3},{"series":"Measured pattern","q":9.23,"I":0.55e-3},{"series":"Measured pattern","q":9.27,"I":0.58e-3},{"series":"Measured pattern","q":9.31,"I":0.6e-3},{"series":"Measured pattern","q":9.35,"I":0.62e-3},{"series":"Measured pattern","q":9.39,"I":0.6e-3},{"series":"Measured pattern","q":9.43,"I":0.66e-3},{"series":"Measured pattern","q":9.47,"I":0.64e-3},{"series":"Measured pattern","q":9.51,"I":0.66e-3},{"series":"Measured pattern","q":9.55,"I":0.6e-3},{"series":"Measured pattern","q":9.59,"I":0.62e-3},{"series":"Measured pattern","q":9.63,"I":0.57e-3},{"series":"Measured pattern","q":9.67,"I":0.56e-3},{"series":"Measured pattern","q":9.71,"I":0.52e-3},{"series":"Measured pattern","q":9.75,"I":0.53e-3},{"series":"Measured pattern","q":9.79,"I":0.48e-3},{"series":"Measured pattern","q":9.83,"I":0.52e-3},{"series":"Measured pattern","q":9.87,"I":0.47e-3},{"series":"Measured pattern","q":9.91,"I":0.5e-3},{"series":"Measured pattern","q":9.95,"I":0.46e-3},{"series":"Measured pattern","q":9.99,"I":0.51e-3},{"series":"Measured pattern","q":10.03,"I":0.48e-3},{"series":"Measured pattern","q":10.07,"I":0.52e-3},{"series":"Measured pattern","q":10.11,"I":0.47e-3},{"series":"Measured pattern","q":10.15,"I":0.5e-3},{"series":"Measured pattern","q":10.19,"I":0.46e-3},{"series":"Measured pattern","q":10.23,"I":0.51e-3},{"series":"Measured pattern","q":10.27,"I":0.47e-3},{"series":"Measured pattern","q":10.31,"I":0.5e-3},{"series":"Measured pattern","q":10.35,"I":0.45e-3},{"series":"Measured pattern","q":10.39,"I":0.5e-3},{"series":"Measured pattern","q":10.43,"I":0.47e-3},{"series":"Measured pattern","q":10.47,"I":0.52e-3},{"series":"Measured pattern","q":10.51,"I":0.48e-3},{"series":"Measured pattern","q":10.55,"I":0.5e-3},{"series":"Measured pattern","q":10.59,"I":0.45e-3},{"series":"Measured pattern","q":10.63,"I":0.49e-3},{"series":"Measured pattern","q":10.67,"I":0.44e-3},{"series":"Measured pattern","q":10.71,"I":0.48e-3},{"series":"Measured pattern","q":10.75,"I":0.43e-3},{"series":"Measured pattern","q":10.79,"I":0.47e-3},{"series":"Measured pattern","q":10.83,"I":0.44e-3},{"series":"Measured pattern","q":10.87,"I":0.48e-3},{"series":"Measured pattern","q":10.91,"I":0.42e-3},{"series":"Measured pattern","q":10.94,"I":0.46e-3},{"series":"Measured pattern","q":10.98,"I":0.41e-3},{"series":"Measured pattern","q":11.02,"I":0.45e-3},{"series":"Measured pattern","q":11.06,"I":0.42e-3},{"series":"Measured pattern","q":11.1,"I":0.46e-3},{"series":"Measured pattern","q":11.14,"I":0.4e-3},{"series":"Measured pattern","q":11.18,"I":0.44e-3},{"series":"Measured pattern","q":11.22,"I":0.41e-3},{"series":"Measured pattern","q":11.26,"I":0.46e-3},{"series":"Measured pattern","q":11.3,"I":0.43e-3},{"series":"Measured pattern","q":11.34,"I":0.47e-3},{"series":"Measured pattern","q":11.38,"I":0.44e-3},{"series":"Measured pattern","q":11.42,"I":0.49e-3},{"series":"Measured pattern","q":11.46,"I":0.45e-3},{"series":"Measured pattern","q":11.5,"I":0.5e-3},{"series":"Measured pattern","q":11.54,"I":0.47e-3},{"series":"Measured pattern","q":11.58,"I":0.51e-3},{"series":"Measured pattern","q":11.62,"I":0.46e-3},{"series":"Measured pattern","q":11.66,"I":0.49e-3},{"series":"Measured pattern","q":11.7,"I":0.44e-3},{"series":"Measured pattern","q":11.74,"I":0.48e-3},{"series":"Measured pattern","q":11.78,"I":0.45e-3},{"series":"Measured pattern","q":11.82,"I":0.49e-3},{"series":"Measured pattern","q":11.86,"I":0.44e-3},{"series":"Measured pattern","q":11.9,"I":0.48e-3},{"series":"Measured pattern","q":11.94,"I":0.42e-3},{"series":"Measured pattern","q":11.98,"I":0.5e-3},{"series":"Measured pattern","q":12.02,"I":0.45e-3},{"series":"Measured pattern","q":12.06,"I":0.53e-3},{"series":"Measured pattern","q":12.1,"I":0.44e-3},{"series":"Measured pattern","q":12.14,"I":0.5e-3},{"series":"Measured pattern","q":12.17,"I":0.42e-3},{"series":"Measured pattern","q":12.19,"I":0.27e-3},{"series":"Measured pattern","q":12.21,"I":0.6e-3},{"series":"Measured pattern","q":12.24,"I":0.44e-3},{"series":"Measured pattern","q":12.27,"I":0.55e-3},{"series":"Measured pattern","q":12.3,"I":0.4e-3},{"series":"Measured pattern","q":12.33,"I":0.58e-3},{"series":"Measured pattern","q":12.36,"I":0.33e-3},{"series":"Measured pattern","q":12.38,"I":0.48e-3},{"series":"Measured pattern","q":12.42,"I":0.67e-3},{"series":"Measured pattern","q":12.44,"I":0.17e-3},{"series":"Measured pattern","q":12.47,"I":0.6e-3},{"series":"Measured pattern","q":12.5,"I":0.65e-3},{"series":"Measured pattern","q":12.52,"I":0.64e-3}
 ]},
 "mark":{"type":"line","strokeWidth":4},
 "encoding":{
  "x":{"field":"q","type":"quantitative","axis":null},
  "y":{"field":"I","type":"quantitative","axis":null},
  "color":{"field":"series","type":"nominal"}
 }
}
]
}
